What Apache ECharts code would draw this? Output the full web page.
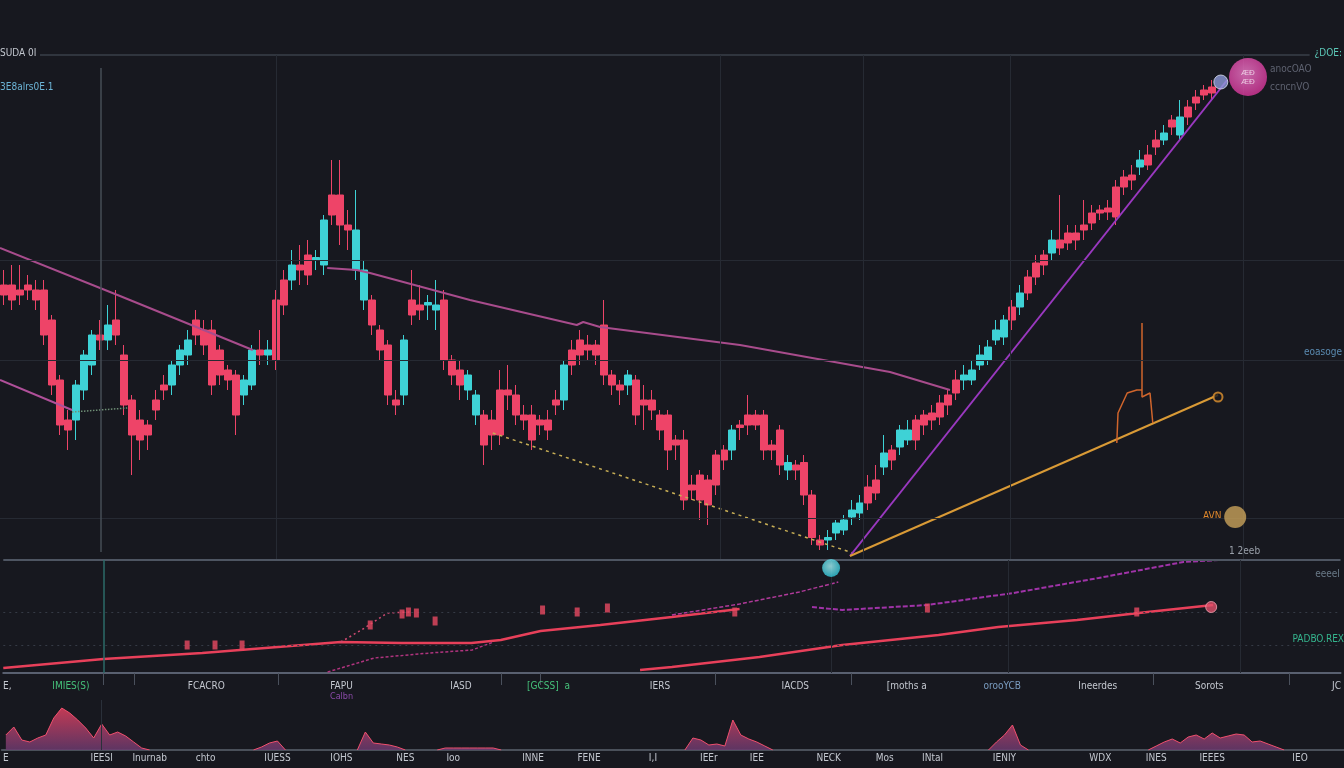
<!DOCTYPE html>
<html>
<head>
<meta charset="utf-8">
<script src="https://cdn.jsdelivr.net/npm/echarts@6/dist/echarts.min.js"></script>
<style>
  html, body { margin: 0; padding: 0; background: #17181f; }
  #chart { width: 1344px; height: 768px; }
</style>
</head>
<body>
<div id="chart"></div>
<script>
// candles: [open, close, low, high]
const ohlc = [
  [55,53,51,58],[55,52,50,59],[54,53,51,59],[55,54,52,57],[54,52,50,56],[54,45,43,56],[48,35,33,49],[36,27,25,37],
  [28,26,22,30],[28,35,24,36],[34,41,32,42],[39,45,37,46],[45,44,42,48],[44,47,42,51],[48,45,43,54],[41,31,29,43],
  [32,25,17,33],[28,24,20,30],[27,25,22,28],[32,30,28,34],[35,34,32,37],[35,39,33,40],[39,42,37,43],[41,44,39,46],
  [48,45,43,50],[46,43,41,48],[46,35,33,48],[42,37,35,43],[38,36,34,39],[37,29,25,38],[33,36,31,37],[35,42,34,43],
  [42,41,39,46],[41,42,39,44],[52,40,38,54],[56,51,49,58],[56,59,54,62],[59,58,55,63],[61,57,55,64],[60,60.5,58,62],
  [59,68,57,69],[73,69,67,80],[73,67,63,80],[67,66,62,70],[58,66,56,74],[52,58,50,60],[52,47,45,53],[46,42,40,47],
  [43,33,31,44],[32,31,29,34],[33,44,31,45],[52,49,47,58],[51,50,48,55],[51,51.5,48,53],[50,51,46,56],[52,40,38,54],
  [40,37,35,41],[38,35,32,40],[34,37,32,38],[29,33,27,34],[29,23,19,30],[28,25,22,30],[34,25,23,38],[34,33,30,39],
  [33,29,27,35],[29,28,26,31],[29,24,22,31],[28,27,25,29],[28,26,24,30],[32,31,29,34],[32,39,30,40],[42,39,37,44],
  [44,41,39,46],[43,42,40,45],[43,41,39,44],[47,37,35,52],[37,35,33,38],[35,34,31,36],[35,37,33,38],[36,29,27,37],
  [32,31,26,35],[32,30,28,34],[29,26,24,30],[29,22,18,30],[24,23,20,25],[24,12,10,26],[15,14,12,17],[17,12,8,18],
  [16,11,7,17],[21,15,13,22],[22,20,18,23],[22,26,20,27],[27,26.5,24,28],[29,27,25,33],[29,27,26,30],[29,22,20,30],
  [23,22,20,24],[26,19,17,27],[18,19.5,16,21],[19,18,16,20],[19.5,13,11,21],[13,4.5,3,14],[4,3,2,5],[4,4.5,2,6],
  [5.4,7.4,4,8],[6,8,5,9],[8.6,10,7,12],[9.4,11.4,8,13],[14.6,11.4,10,17],[16,13.4,12,19],[18.6,21.4,17,25],[22,20,18,23],
  [22.6,26,21,27],[24,26,23,28],[28,24,22,29],[29,27,25,30],[29.4,28,26,31],[31.4,28.6,27,33],[33,31,29,34],[36,33.4,32,38],
  [36,37,34,39],[36,38,35,40],[39,41,38,43],[40,42.6,39,44],[44,46,43,48],[44.6,48,43,49],[50.6,48,46,52],[50.6,53.4,49,55],
  [56.6,53.4,52,58],[59.4,56.6,55,61],[61,59,57,62],[61.4,64,60,66],[64,62.4,61,73],[65.4,63.4,62,67],[65.4,64,62,67],[67,66,64,72],
  [69.4,67.4,66,71],[70,69.4,68,71],[70.4,69.6,68,72],[74.6,68.6,67,76],[76.6,74.6,73,78],[77,76,74,79],[78.6,80,77,82],[81,79,78,83],
  [84,82.6,81,86],[84,85.4,83,87],[88,86.6,85,89],[85,88.6,84,92],[90.6,88.6,87,92],[92.6,91.4,90,94],[94,93,92,95],[94.6,93.4,92,96]
]
const slotCount = 168

// overlay lines on the price panel: [bar index, price]
const trendA = [[-0.5,62.4],[14.5,52.8],[31.1,42]]
const trendB = [[40.4,58.4],[44.1,58],[45.75,57.4],[58.25,52],[71.6,47],[72.4,47.6],[74.5,46.6],[92,43],[110.75,37.6],[118.25,34]]
const trendC = [[-0.5,36],[8.5,30]]
const dotsD = [[8.5,29.6],[15.4,30.4]]
const dotsE = [[61.1,25.4],[106.1,1.4]]
const rayPurple = [[105.75,0.8],[152.9,96]]
const rayOrange = [[105.75,0.8],[151.75,33]]
const squiggle = [[139.1,23.4],[139.25,29.4],[140.4,33.4],[141.6,34],[142.25,34],[142.25,47.4],[142.25,32.6],[143.25,33.4],[143.6,27.4]]

// indicator panel lines
const redA = [[-0.5,5],[12.1,14],[24.5,20],[41.9,31],[49.5,30],[58.3,30],[62,33],[67,42],[74.5,48],[83.5,56],[92,64]]
const magA = [[83.5,58],[92,69],[99.5,81],[104.4,91]]
const pinkDots = [[41.9,31],[44.5,43],[47.75,60],[50.75,61]]
const magB = [[40.25,1],[46.1,15],[53.1,20],[58.4,23],[61.1,31]]
const redB = [[79.5,3],[83.5,6],[94.5,16],[104.9,28],[117,38],[124.5,46],[134.4,53],[143.25,61],[151.5,68]]
const magC = [[101.1,66],[104.9,63],[115.6,68],[126.4,80],[137.1,95],[147.75,111],[152.2,113]]
const ticks = [[22.6,28],[26.1,28],[29.5,28],[45.6,48],[49.6,59],[50.4,61],[51.4,60],[53.75,52],[67.25,63],[71.6,61],[75.4,65],[91.4,61],[115.6,65],[141.9,61]]

// volume
const volume = [
  3,4.6,2,1.6,2.4,3,6.4,8.4,7.4,6,4.4,2.4,5.2,3,3.6,2.8,1.6,0.4,0,
  '-','-','-','-','-','-','-','-','-','-','-','-',
  0,0.6,1.4,1.8,0,
  '-','-','-','-','-','-','-','-',
  0,3.6,1.4,1.2,1.0,0.6,0,
  '-','-','-',
  0,0.4,0.4,0.4,0.4,0.4,0.4,0.4,0,
  '-','-','-','-','-','-','-','-','-','-','-','-','-','-','-','-','-','-','-','-','-','-',
  0,2.4,2.0,1.0,1.2,0.8,6,3,2.2,1.6,0.8,0,
  '-','-','-','-','-','-','-','-','-','-','-','-','-','-','-','-','-','-','-','-','-','-','-','-','-','-',
  0,1.6,3.0,5.0,1.0,0,
  '-','-','-','-','-','-','-','-','-','-','-','-','-','-',
  0,0.8,1.6,2.2,1.4,2.6,3.0,2.2,3.4,2.4,2.8,3.2,3.0,1.6,1.8,1.2,0.6,0,
  '-','-','-','-','-','-','-'
]

// axis labels
const upperLabels = ['E,', 'IMIES(S)', 'FCACRO', 'FAPU', 'IASD', '[GCSS]  a', 'IERS', 'IACDS', '[moths a', 'orooYCB', 'Ineerdes', 'Sorots', 'JC']
const upperLabelIdx = [0, 8, 25, 42, 57, 68, 82, 99, 113, 125, 137, 151, 167]
const upperTickIdx = [12, 16, 34, 62, 67, 89, 106, 144, 161]
const lowerLabels = ['E', 'IEESI', 'Inurnab', 'chto', 'IUESS', 'IOHS', 'NES', 'Ioo', 'INNE', 'FENE', 'I,I', 'IEEr', 'IEE', 'NECK', 'Mos', 'INtal', 'IENIY', 'WDX', 'INES', 'IEEES', 'IEO']
const lowerLabelIdx = [0, 12, 18, 25, 34, 42, 50, 56, 66, 73, 81, 88, 94, 103, 110, 116, 125, 137, 144, 151, 162]

const labelFont = '"Liberation Sans Narrow", "DejaVu Sans Condensed", "DejaVu Sans", sans-serif'
const upperColors = { 1: '#45c07a', 5: '#45c07a', 9: '#7a9cc0' }

function buildCats(labels, idx, colors) {
  const cats = []
  for (let i = 0; i < slotCount; i++) cats.push({ value: '' })
  labels.forEach((t, k) => {
    cats[idx[k]] = { value: t, textStyle: { color: (colors && colors[k]) || '#c4c8d0' } }
  })
  return cats
}

const slots = []
for (let i = 0; i < slotCount; i++) slots.push(String(i))

const chart = echarts.init(document.getElementById('chart'))

const faint = { color: '#262a33', width: 1, type: 'solid' }
const noLabel = { show: false }

const option = {
  backgroundColor: '#17181f',
  animation: false,
  grid: [
    { left: 0, right: 0, top: 55, height: 505 },
    { left: 0, right: 0, top: 560, height: 113 },
    { left: 0, right: 0, top: 700, height: 50 }
  ],
  xAxis: [
    { type: 'category', gridIndex: 0, data: slots, boundaryGap: true, show: false },
    { type: 'value', gridIndex: 0, min: -0.5, max: slotCount - 0.5, show: false },
    {
      type: 'category', gridIndex: 1, data: buildCats(upperLabels, upperLabelIdx, upperColors), boundaryGap: true,
      axisLine: { lineStyle: { color: '#596070', width: 2 } },
      axisTick: { show: true, alignWithLabel: true, length: 12, lineStyle: { color: '#4a505c' },
        interval: (i) => upperTickIdx.indexOf(i) >= 0 },
      axisLabel: { interval: 0, margin: 8, fontSize: 10, fontFamily: labelFont },
      splitLine: { show: false }
    },
    { type: 'value', gridIndex: 1, min: -0.5, max: slotCount - 0.5, show: false },
    {
      type: 'category', gridIndex: 2, data: buildCats(lowerLabels, lowerLabelIdx), boundaryGap: true,
      axisLine: { lineStyle: { color: '#4a505a', width: 2 } },
      axisTick: { show: false },
      axisLabel: { interval: 0, margin: 3, fontSize: 10, fontFamily: labelFont },
      splitLine: { show: false }
    }
  ],
  yAxis: [
    { type: 'value', gridIndex: 0, min: 0, max: 101, show: false },
    { type: 'value', gridIndex: 1, min: 0, max: 113, show: false },
    { type: 'value', gridIndex: 2, min: 0, max: 10, show: false }
  ],
  series: [
    // grid lines of price panel
    {
      type: 'line', xAxisIndex: 1, yAxisIndex: 0, data: [[-5, -5]], showSymbol: false, z: 0, silent: true,
      markLine: {
        silent: true, symbol: 'none', label: noLabel,
        data: [
          { yAxis: 60, lineStyle: faint },
          { yAxis: 40, lineStyle: faint },
          { yAxis: 8.4, lineStyle: faint },
          [{ coord: [4.5, 101], lineStyle: { color: '#3a3f4a', width: 1.5, type: 'solid' } }, { coord: [163.2, 101] }],
          [{ coord: [12.1, 1.6], lineStyle: { color: '#464c56', width: 1.5, type: 'solid' } }, { coord: [12.1, 98.4] }],
          { xAxis: 34, lineStyle: faint },
          { xAxis: 89.5, lineStyle: faint },
          { xAxis: 107.4, lineStyle: faint },
          { xAxis: 125.75, lineStyle: faint },
          { xAxis: 154.9, lineStyle: faint }
        ]
      }
    },
    {
      type: 'candlestick', xAxisIndex: 0, yAxisIndex: 0, barWidth: 7, z: 3,
      data: ohlc,
      itemStyle: { color: '#3ed2d6', color0: '#ee4468', borderColor: '#3ed2d6', borderColor0: '#ee4468', borderWidth: 1 }
    },
    { type: 'line', xAxisIndex: 1, yAxisIndex: 0, data: trendA, showSymbol: false, z: 4, lineStyle: { color: '#a84c8c', width: 2 } },
    { type: 'line', xAxisIndex: 1, yAxisIndex: 0, data: trendB, showSymbol: false, z: 4, lineStyle: { color: '#a84c8c', width: 2 } },
    { type: 'line', xAxisIndex: 1, yAxisIndex: 0, data: trendC, showSymbol: false, z: 4, lineStyle: { color: '#b0509a', width: 2 } },
    { type: 'line', xAxisIndex: 1, yAxisIndex: 0, data: dotsD, showSymbol: false, z: 4, lineStyle: { color: '#6f8f76', width: 1.5, type: 'dotted' } },
    { type: 'line', xAxisIndex: 1, yAxisIndex: 0, data: dotsE, showSymbol: false, z: 4, lineStyle: { color: '#c8ae55', width: 1.5, type: [3, 4] } },
    { type: 'line', xAxisIndex: 1, yAxisIndex: 0, data: rayPurple, showSymbol: false, z: 4, lineStyle: { color: '#9a38c0', width: 2 } },
    { type: 'line', xAxisIndex: 1, yAxisIndex: 0, data: rayOrange, showSymbol: false, z: 4, lineStyle: { color: '#d99a36', width: 2 } },
    { type: 'line', xAxisIndex: 1, yAxisIndex: 0, data: squiggle, showSymbol: false, z: 4, lineStyle: { color: '#d0652c', width: 1.5 } },
    {
      type: 'scatter', xAxisIndex: 1, yAxisIndex: 0, z: 6,
      data: [
        { value: [152.1, 95.6], symbolSize: 14, itemStyle: { color: '#8d9ad8', borderColor: '#d8dcf0', borderWidth: 1 } },
        { value: [155.5, 96.6], symbolSize: 38,
          itemStyle: { color: { type: 'radial', x: 0.45, y: 0.4, r: 0.6, colorStops: [{ offset: 0, color: '#f27ccc' }, { offset: 1, color: '#d8359a' }] } },
          label: { show: true, formatter: 'ÆÐ\nÆÐ', color: '#f8e8f4', fontSize: 8, lineHeight: 9 } },
        { value: [153.9, 8.6], symbolSize: 22, itemStyle: { color: '#c9a35a' } },
        { value: [151.75, 32.6], symbolSize: 9, itemStyle: { color: '#17181f', borderColor: '#e0922e', borderWidth: 2 } }
      ]
    },

    // indicator panel
    {
      type: 'line', xAxisIndex: 3, yAxisIndex: 1, data: [[-5, -5]], showSymbol: false, z: 0, silent: true,
      markLine: {
        silent: true, symbol: 'none', label: noLabel,
        data: [
          { yAxis: 113, lineStyle: { color: '#4e5562', width: 2, type: 'solid' } },
          { yAxis: 61, lineStyle: { color: '#353a45', width: 1, type: [2, 4] } },
          { yAxis: 28, lineStyle: { color: '#353a45', width: 1, type: [2, 4] } },
          { xAxis: 12.1, lineStyle: { color: '#2d6a68', width: 1.5, type: 'solid' } },
          { xAxis: 103.5, lineStyle: faint },
          { xAxis: 125.75, lineStyle: faint },
          { xAxis: 154.9, lineStyle: faint }
        ]
      }
    },
    { type: 'line', xAxisIndex: 3, yAxisIndex: 1, data: redA, showSymbol: false, z: 4, lineStyle: { color: '#e8405a', width: 2.5 } },
    { type: 'line', xAxisIndex: 3, yAxisIndex: 1, data: magA, showSymbol: false, z: 4, lineStyle: { color: '#b03a9a', width: 1.5, type: [4, 2] } },
    { type: 'line', xAxisIndex: 3, yAxisIndex: 1, data: pinkDots, showSymbol: false, z: 4, lineStyle: { color: '#d04a72', width: 1.5, type: [2, 3] } },
    { type: 'line', xAxisIndex: 3, yAxisIndex: 1, data: magB, showSymbol: false, z: 4, lineStyle: { color: '#b0347e', width: 1.5, type: [3, 2] } },
    { type: 'line', xAxisIndex: 3, yAxisIndex: 1, data: redB, showSymbol: false, z: 4, lineStyle: { color: '#e8405a', width: 2.5 } },
    { type: 'line', xAxisIndex: 3, yAxisIndex: 1, data: magC, showSymbol: false, z: 4, lineStyle: { color: '#a033a8', width: 2, type: [5, 2] } },
    {
      type: 'scatter', xAxisIndex: 3, yAxisIndex: 1, z: 5, symbol: 'rect', symbolSize: [5, 9],
      data: ticks, itemStyle: { color: '#e84a62' }
    },
    {
      type: 'scatter', xAxisIndex: 3, yAxisIndex: 1, z: 6,
      data: [
        { value: [103.5, 105], symbolSize: 18, itemStyle: { color: { type: 'radial', x: 0.45, y: 0.4, r: 0.6, colorStops: [{ offset: 0, color: '#a8f4f8' }, { offset: 1, color: '#2ec4d6' }] } } },
        { value: [151.25, 66], symbolSize: 11, itemStyle: { color: '#e0506a', borderColor: '#f0a0b0', borderWidth: 1 } }
      ]
    },

    // volume
    {
      type: 'line', xAxisIndex: 4, yAxisIndex: 2, data: volume, showSymbol: false, z: 3,
      lineStyle: { color: '#f0506e', width: 1 },
      areaStyle: {
        opacity: 0.85,
        color: { type: 'linear', x: 0, y: 0, x2: 0, y2: 1, colorStops: [{ offset: 0, color: '#e0405e' }, { offset: 1, color: '#6a3a6e' }] }
      },
      markLine: {
        silent: true, symbol: 'none', label: noLabel,
        data: [{ xAxis: 12, lineStyle: { color: '#2a303a', width: 1, type: 'solid' } }]
      }
    }
  ],
  graphic: [
    { type: 'text', left: 0, top: 48, style: { text: 'SUDA 0I', fill: '#c2c6ce', font: '10px ' + labelFont } },
    { type: 'text', left: 0, top: 82, style: { text: '3E8alrs0E.1', fill: '#6cb4d6', font: '10px ' + labelFont } },
    { type: 'text', right: 2, top: 48, style: { text: '¿DOE:', fill: '#5cc8b8', font: '10px ' + labelFont } },
    { type: 'text', left: 1270, top: 64, style: { text: 'anocOAO', fill: '#5e6270', font: '10px ' + labelFont } },
    { type: 'text', left: 1270, top: 82, style: { text: 'ccncnVO', fill: '#5e6270', font: '10px ' + labelFont } },
    { type: 'text', right: 2, top: 347, style: { text: 'eoasoge', fill: '#5a8ab0', font: '10px ' + labelFont } },
    { type: 'text', left: 1203, top: 511, style: { text: 'AVN', fill: '#e0882c', font: '10px ' + labelFont } },
    { type: 'text', left: 1229, top: 546, style: { text: '1 2eeb', fill: '#9aa0aa', font: '10px ' + labelFont } },
    { type: 'text', right: 4, top: 569, style: { text: 'eeeeI', fill: '#6a7a88', font: '10px ' + labelFont } },
    { type: 'text', right: 0, top: 634, style: { text: 'PADBO.REX', fill: '#35b58e', font: '10px ' + labelFont } },
    { type: 'text', left: 330, top: 692, style: { text: 'Calbn', fill: '#8a4aa8', font: '9px ' + labelFont } }
  ]
}

chart.setOption(option)
</script>
</body>
</html>
